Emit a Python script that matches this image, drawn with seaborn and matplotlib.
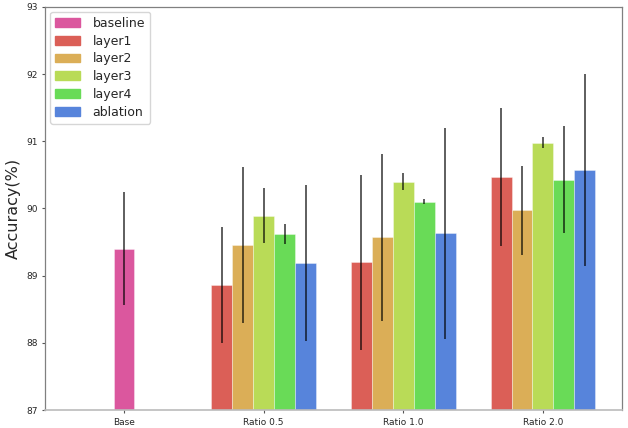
import numpy as np
import pandas as pd
import matplotlib
matplotlib.use('Agg')
import matplotlib.pyplot as plt
import seaborn as sns
from matplotlib.patches import Patch

# categories and series
groups = ['Base', 'Ratio 0.5', 'Ratio 1.0', 'Ratio 2.0']
layers = ['layer1', 'layer2', 'layer3', 'layer4', 'ablation']

baseline_acc = 89.40
baseline_err = 0.84

# accuracy per layer for Ratio 0.5 / 1.0 / 2.0
layer1 = [88.86, 89.20, 90.47]
layer2 = [89.45, 89.57, 89.97]
layer3 = [89.89, 90.40, 90.98]
layer4 = [89.62, 90.10, 90.43]
ablation = [89.19, 89.63, 90.57]

layer1_err = [0.87, 1.30, 1.03]
layer2_err = [1.16, 1.24, 0.66]
layer3_err = [0.41, 0.12, 0.08]
layer4_err = [0.15, 0.04, 0.79]
ablation_err = [1.16, 1.57, 1.43]

sns.set_style('white')

pal = sns.color_palette('hls', 10)
base_color = pal[9]
layer_colors = [pal[0], pal[1], pal[2], pal[3], pal[6]]

rows = []
for name, vals in zip(layers, [layer1, layer2, layer3, layer4, ablation]):
    for g, v in zip(groups[1:], vals):
        rows.append({'group': g, 'method': name, 'acc': v})
df = pd.DataFrame(rows)

fig = plt.figure(figsize=(6.28, 4.28), dpi=100)
ax = fig.add_axes([0.072, 0.042, 0.918, 0.942])

# baseline bar on the Base category
sns.barplot(x=['Base'], y=[baseline_acc], order=groups, color=base_color,
            width=0.15, saturation=1, errorbar=None, ax=ax)

# layer bars, dodged by hue
sns.barplot(data=df, x='group', y='acc', hue='method', order=groups,
            hue_order=layers, palette=layer_colors, width=0.75,
            saturation=1, errorbar=None, legend=False, ax=ax)

for p in ax.patches:
    p.set_edgecolor((1, 1, 1, 0.5))
    p.set_linewidth(0.5)

# error bars
ax.errorbar([0], [baseline_acc], yerr=[baseline_err], fmt='none',
            ecolor='k', elinewidth=1.1, alpha=0.8, capsize=0)
errs = [layer1_err, layer2_err, layer3_err, layer4_err, ablation_err]
for j, (vals, e) in enumerate(zip([layer1, layer2, layer3, layer4, ablation], errs)):
    xs = np.arange(1, 4) + (j - 2) * 0.15
    ax.errorbar(xs, vals, yerr=e, fmt='none', ecolor='k',
                elinewidth=1.1, alpha=0.8, capsize=0)

ax.set_ylim(87, 93)
ax.set_yticks(range(87, 94))
ax.set_xlim(-0.564, 3.564)
ax.set_xlabel('')
ax.set_ylabel('Accuracy(%)', fontsize=11.5)
ax.tick_params(axis='both', labelsize=6.5, length=2, color='#555555')
ax.tick_params(axis='y', left=True)
ax.tick_params(axis='x', bottom=True)

for s in ['top', 'right', 'left']:
    ax.spines[s].set_color('#808080')
    ax.spines[s].set_linewidth(0.9)
ax.spines['bottom'].set_color('#bbbbbb')
ax.spines['bottom'].set_linewidth(1.2)

handles = [Patch(color=base_color, label='baseline')]
handles += [Patch(color=c, label=n) for c, n in zip(layer_colors, layers)]
ax.legend(handles=handles, loc='upper left', fontsize=9, handlelength=2.0,
          handleheight=0.7, labelspacing=0.38, handletextpad=1.0,
          frameon=True, borderaxespad=0.4)

plt.savefig('out.png', dpi=100)
